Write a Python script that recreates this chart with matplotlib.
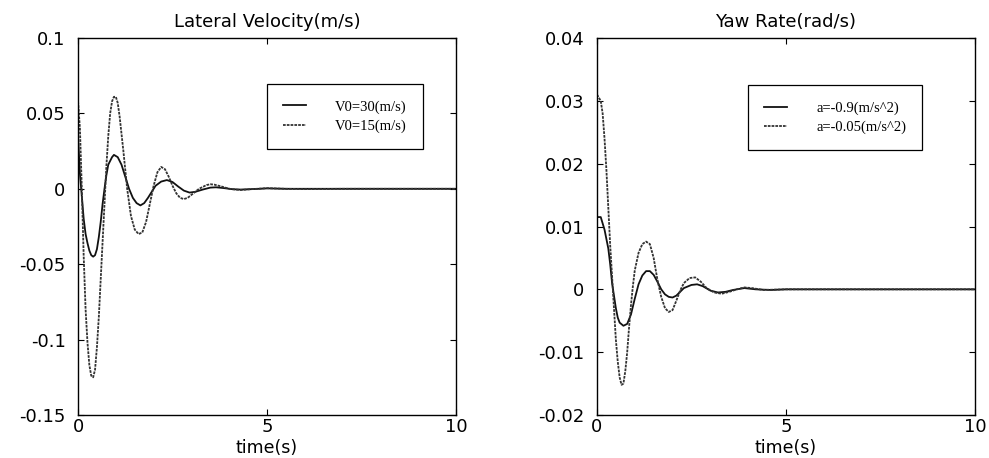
import matplotlib
matplotlib.use("Agg")
import matplotlib.pyplot as plt

# lateral velocity (m/s)
t_v30 = [0, 0.05, 0.1, 0.15, 0.2, 0.25, 0.3, 0.35, 0.4, 0.45, 0.5, 0.55, 0.6, 0.65,
         0.7, 0.75, 0.8, 0.9, 0.95, 1.05, 1.15, 1.25, 1.35, 1.45, 1.55, 1.65, 1.75,
         1.85, 1.95, 2.05, 2.2, 2.35, 2.5, 2.65, 2.8, 2.95, 3.1, 3.3, 3.5, 3.65, 3.85,
         4.1, 4.3, 4.8, 5.0, 5.5, 10]
v_v30 = [0.035, 0.01, -0.005, -0.02, -0.03, -0.036, -0.041, -0.044, -0.045, -0.044,
         -0.04, -0.032, -0.022, -0.01, 0.0, 0.009, 0.016, 0.021, 0.0225, 0.021, 0.016,
         0.008, 0.0, -0.006, -0.0095, -0.011, -0.0095, -0.006, -0.002, 0.002, 0.0048,
         0.0058, 0.0045, 0.0015, -0.0012, -0.0025, -0.002, -0.0005, 0.0008, 0.001,
         0.0005, -0.0003, -0.0005, 0.0, 0.0003, 0.0, 0.0]

t_v15 = [0, 0.05, 0.1, 0.15, 0.2, 0.25, 0.3, 0.35, 0.4, 0.45, 0.5, 0.55, 0.6, 0.65,
         0.7, 0.75, 0.8, 0.85, 0.9, 0.95, 1.0, 1.05, 1.1, 1.2, 1.3, 1.4, 1.5, 1.6, 1.7,
         1.8, 1.9, 2.0, 2.1, 2.2, 2.3, 2.4, 2.5, 2.6, 2.7, 2.8, 2.9, 3.0, 3.2, 3.4, 3.5,
         3.6, 3.8, 4.0, 4.3, 4.6, 5.0, 5.5, 6.0, 7.0, 10]
v_v15 = [0.058, 0.04, 0.0, -0.045, -0.08, -0.102, -0.117, -0.124, -0.125, -0.12,
         -0.105, -0.085, -0.06, -0.035, -0.01, 0.015, 0.035, 0.05, 0.058, 0.061, 0.061,
         0.057, 0.048, 0.025, 0.0, -0.018, -0.027, -0.03, -0.029, -0.022, -0.01, 0.002,
         0.011, 0.0145, 0.013, 0.008, 0.002, -0.003, -0.006, -0.0068, -0.006, -0.004,
         0.0, 0.0025, 0.003, 0.0028, 0.0015, 0.0, -0.0008, -0.0002, 0.0004, 0.0,
         -0.0002, 0.0, 0.0]

# yaw rate (rad/s)
t_a09 = [0, 0.1, 0.15, 0.2, 0.25, 0.3, 0.35, 0.4, 0.45, 0.5, 0.55, 0.6, 0.7, 0.8,
         0.9, 1.0, 1.1, 1.2, 1.3, 1.4, 1.5, 1.6, 1.7, 1.8, 1.9, 2.0, 2.1, 2.3, 2.5,
         2.65, 2.8, 3.0, 3.2, 3.4, 3.6, 3.9, 4.2, 4.6, 5.0, 10]
r_a09 = [0.0115, 0.0115, 0.0105, 0.0095, 0.008, 0.0065, 0.004, 0.001, -0.001, -0.003,
         -0.0045, -0.0053, -0.0058, -0.0055, -0.004, -0.0015, 0.0008, 0.0022, 0.0029,
         0.0029, 0.0023, 0.0012, 0.0, -0.0008, -0.0012, -0.0013, -0.001, 0.0002,
         0.0007, 0.0008, 0.0005, -0.0002, -0.0005, -0.0004, -0.0001, 0.0002, 0.0,
         -0.0001, 0.0, 0.0]

t_a005 = [0, 0.05, 0.1, 0.15, 0.2, 0.25, 0.3, 0.35, 0.4, 0.45, 0.5, 0.55, 0.6, 0.65,
          0.7, 0.75, 0.8, 0.85, 0.9, 0.95, 1.0, 1.1, 1.2, 1.3, 1.4, 1.5, 1.6, 1.7, 1.8,
          1.9, 2.0, 2.1, 2.2, 2.3, 2.45, 2.6, 2.75, 2.9, 3.1, 3.3, 3.5, 3.7, 3.9, 4.1,
          4.4, 5.0, 10]
r_a005 = [0.031, 0.0305, 0.030, 0.028, 0.024, 0.019, 0.013, 0.007, 0.002, -0.003,
          -0.008, -0.0115, -0.014, -0.0152, -0.015, -0.013, -0.01, -0.006, -0.0025,
          0.0005, 0.003, 0.0058, 0.0072, 0.0076, 0.0072, 0.005, 0.0015, -0.0012, -0.003,
          -0.0036, -0.0033, -0.0018, -0.0002, 0.001, 0.0018, 0.0019, 0.0012, 0.0002,
          -0.0005, -0.0007, -0.0004, 0.0, 0.0003, 0.0002, -0.0001, 0.0, 0.0]

x_ticks = [0, 5, 10]
v_ticks = [-0.15, -0.1, -0.05, 0, 0.05, 0.1]
v_labels = ['-0.15', '-0.1', '-0.05', '0', '0.05', '0.1']
r_ticks = [-0.02, -0.01, 0, 0.01, 0.02, 0.03, 0.04]
r_labels = ['-0.02', '-0.01', '0', '0.01', '0.02', '0.03', '0.04']

fig = plt.figure(figsize=(9.89, 4.58), dpi=100)
ax1 = fig.add_axes([0.0789, 0.0939, 0.3822, 0.8231])
ax2 = fig.add_axes([0.6036, 0.0939, 0.3822, 0.8231])

ax1.plot(t_v30, v_v30, color='#111111', lw=1.3, label='V0=30(m/s)')
ax1.plot(t_v15, v_v15, color='#333333', lw=1.3, ls=(0, (1.5, 0.6)), label='V0=15(m/s)')
ax2.plot(t_a09, r_a09, color='#111111', lw=1.3, label='a=-0.9(m/s^2)')
ax2.plot(t_a005, r_a005, color='#333333', lw=1.3, ls=(0, (1.5, 0.6)), label='a=-0.05(m/s^2)')

setup = [(ax1, 'Lateral Velocity(m/s)', v_ticks, v_labels, (-0.15, 0.1), (0.48, 0.897)),
         (ax2, 'Yaw Rate(rad/s)', r_ticks, r_labels, (-0.02, 0.04), (0.38, 0.894))]

for ax, title, yt, yl, ylim, leg_xy in setup:
    ax.set_xlim(0, 10)
    ax.set_ylim(*ylim)
    ax.set_xticks(x_ticks)
    ax.set_xticklabels([str(v) for v in x_ticks])
    ax.set_yticks(yt)
    ax.set_yticklabels(yl)
    ax.tick_params(direction='in', top=True, right=True, length=4, width=0.8,
                   labelsize=13)
    ax.tick_params(axis='y', pad=9)
    ax.tick_params(axis='x', pad=2)
    for lab in ax.get_xticklabels() + ax.get_yticklabels():
        lab.set_family('DejaVu Sans')
    for sp in ax.spines.values():
        sp.set_linewidth(1.0)
    ax.set_title(title, fontsize=13, family='DejaVu Sans', pad=8)
    ax.set_xlabel('time(s)', fontsize=12.5, family='DejaVu Sans', va='center')
    ax.xaxis.set_label_coords(0.5, -0.088)
    leg = ax.legend(loc='upper left', bbox_to_anchor=leg_xy, fancybox=False,
                    edgecolor='black', framealpha=1, handlelength=1.6,
                    handletextpad=2.0, borderpad=1.1, labelspacing=0.4,
                    prop={'family': 'Liberation Serif', 'size': 10.5})
    leg.get_frame().set_linewidth(0.9)

fig.savefig('out.png', dpi=100)
